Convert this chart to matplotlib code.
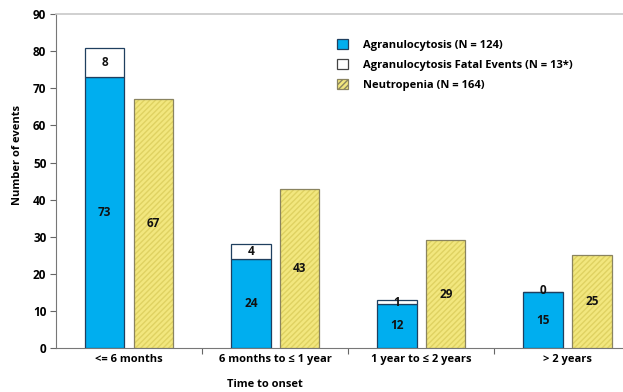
import matplotlib
matplotlib.use("Agg")
import matplotlib.pyplot as plt
from matplotlib.patches import Patch
import numpy as np

plt.rcParams['font.family'] = ['Open Sans', 'DejaVu Sans']

categories = ["<= 6 months", "6 months to \u2264 1 year", "1 year to \u2264 2 years", "> 2 years"]
agranulocytosis = [73, 24, 12, 15]
fatal_events = [8, 4, 1, 0]
neutropenia = [67, 43, 29, 25]

legend_labels = ["Agranulocytosis (N = 124)",
                 "Agranulocytosis Fatal Events (N = 13*)",
                 "Neutropenia (N = 164)"]

blue = "#00AEEF"
blue_edge = "#1F3F5F"
yellow = "#F2E77E"
yellow_hatch = "#DFD262"
yellow_edge = "#8A8460"

fig = plt.figure(figsize=(6.23, 3.92), dpi=100)
ax = fig.add_axes([0.090, 0.112, 0.910, 0.852])

x = np.arange(len(categories))
w = 0.27
off = 0.167

# agranulocytosis with fatal events stacked on top
ax.bar(x - off, agranulocytosis, w, color=blue, edgecolor=blue_edge, linewidth=0.9, zorder=3)
ax.bar(x - off, fatal_events, w, bottom=agranulocytosis, color="white",
       edgecolor=blue_edge, linewidth=0.9, zorder=3)

# neutropenia: hatched fill, then outline
ax.bar(x + off, neutropenia, w, color=yellow, edgecolor=yellow_hatch, hatch="//////",
       linewidth=0, zorder=3)
ax.bar(x + off, neutropenia, w, fill=False, edgecolor=yellow_edge, linewidth=0.9, zorder=4)

lbl = dict(ha="center", va="center", fontsize=8.5, fontweight="bold", color="#111111", zorder=5)
for i in range(len(categories)):
    ax.text(x[i] - off, agranulocytosis[i] / 2, str(agranulocytosis[i]), **lbl)
    ax.text(x[i] - off, agranulocytosis[i] + max(fatal_events[i], 1.4) / 2 - (0.3 if fatal_events[i] <= 1 else 0),
            str(fatal_events[i]), **lbl)
    ax.text(x[i] + off, neutropenia[i] / 2, str(neutropenia[i]), **lbl)

ax.set_xlim(-0.5, 3.38)
ax.set_ylim(0, 90)
ax.set_yticks(np.arange(0, 91, 10))
ax.set_xticks(x)
ax.set_xticklabels(categories)
ax.tick_params(axis="x", length=0, pad=4, labelsize=8)
ax.tick_params(axis="y", length=4, width=0.8, color="#666666", labelsize=8.5, pad=3)
for t in ax.get_xticklabels() + ax.get_yticklabels():
    t.set_fontweight("bold")

# tick marks on category boundaries
ax.set_xticks(np.arange(0.5, 3.0, 1.0), minor=True)
ax.tick_params(axis="x", which="minor", length=4, width=0.8, color="#666666")

ax.spines["right"].set_visible(False)
ax.spines["top"].set_color("#C8C8C8")
ax.spines["top"].set_linewidth(1.2)
ax.spines["left"].set_color("#777777")
ax.spines["bottom"].set_color("#777777")

fig.text(0.028, 0.605, "Number of events", rotation=90, ha="center", va="center",
         fontsize=8, fontweight="bold")
fig.text(0.425, 0.004, "Time to onset", ha="center", va="bottom", fontsize=8, fontweight="bold")

handles = [Patch(facecolor=blue, edgecolor=blue_edge, linewidth=0.9),
           Patch(facecolor="white", edgecolor="#444444", linewidth=0.9),
           Patch(facecolor=yellow, edgecolor=yellow_edge, linewidth=0.9, hatch="//////")]
leg = ax.legend(handles, legend_labels, loc="upper left", bbox_to_anchor=(0.478, 0.955),
                frameon=False, fontsize=8, handlelength=1.0, handleheight=1.0,
                labelspacing=0.75, handletextpad=1.3)
for t in leg.get_texts():
    t.set_fontweight("bold")

fig.savefig("out.png", dpi=100)
